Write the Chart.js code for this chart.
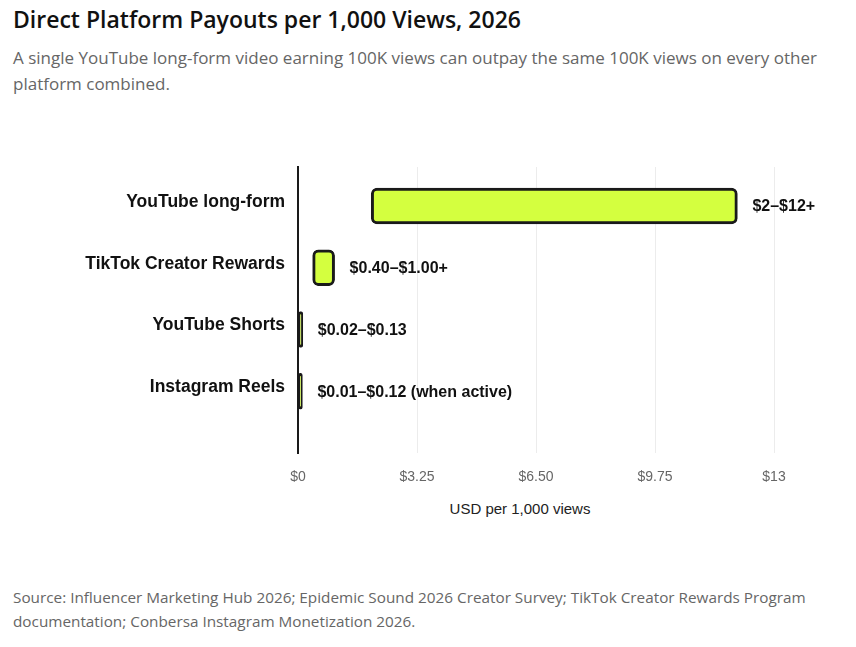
<!DOCTYPE html>
<html lang="en">
<head>
  <meta charset="UTF-8" />
  <title>Direct Platform Payouts per 1,000 Views, 2026</title>
  <script src="https://cdn.jsdelivr.net/npm/chart.js"></script>
  <style>
    body { margin: 0; background: #fff; width: 856px; height: 647px; position: relative; overflow: hidden; }
    .head, .sub, .source, .xtitle { position: absolute; font-family: 'Open Sans', Lato, sans-serif; }
    .head { left: 13px; top: 4px; font-size: 23px; font-weight: 600; color: #111; line-height: 30px; }
    .sub { left: 13px; top: 45px; width: 830px; font-size: 17px; color: #666; line-height: 26px; }
    .source { left: 13px; top: 585px; width: 830px; font-size: 15.3px; color: #666; line-height: 24px; }
    .xtitle { left: 420px; width: 200px; top: 500px; text-align: center; font-family: 'Liberation Sans', Arial, sans-serif; font-size: 15px; color: #222; }
    #chartBox { position: absolute; left: 0; top: 130px; width: 856px; height: 370px; }
  </style>
</head>
<body>
  <div class="head">Direct Platform Payouts per 1,000 Views, 2026</div>
  <div class="sub">A single YouTube long-form video earning 100K views can outpay the same 100K views on every other platform combined.</div>

  <div id="chartBox"><canvas id="payoutChart"></canvas></div>
  <div class="xtitle">USD per 1,000 views</div>

  <div class="source">Source: Influencer Marketing Hub 2026; Epidemic Sound 2026 Creator Survey; TikTok Creator Rewards Program documentation; Conbersa Instagram Monetization 2026.</div>

  <script>
    // data
    const platforms = ['YouTube long-form', 'TikTok Creator Rewards', 'YouTube Shorts', 'Instagram Reels'];
    const payoutLow = [2, 0.40, 0.02, 0.01];
    const payoutHigh = [12, 1.00, 0.13, 0.12];
    const rangeText = ['$2–$12+', '$0.40–$1.00+', '$0.02–$0.13', '$0.01–$0.12 (when active)'];
    const xTicks = [0, 3.25, 6.5, 9.75, 13];

    Chart.defaults.font.family = "'Liberation Sans', Arial, sans-serif";

    const bars = platforms.map((p, i) => ({ y: i, x: [payoutLow[i], payoutHigh[i]] }));

    // range text printed right of each bar
    const rangeLabels = {
      id: 'rangeLabels',
      afterDatasetsDraw(chart) {
        const ctx = chart.ctx;
        const meta = chart.getDatasetMeta(0);
        ctx.save();
        ctx.font = "bold 16px 'Liberation Sans', Arial, sans-serif";
        ctx.fillStyle = '#111';
        ctx.textBaseline = 'middle';
        ctx.textAlign = 'left';
        meta.data.forEach((bar, i) => {
          ctx.fillText(rangeText[i], bar.x + 15, bar.y + 1);
        });
        ctx.restore();
      }
    };

    new Chart(document.getElementById('payoutChart'), {
      type: 'bar',
      data: {
        datasets: [{
          data: bars,
          backgroundColor: '#d4ff3f',
          borderColor: '#1a1a1a',
          borderWidth: 3,
          borderRadius: 6,
          borderSkipped: false,
          barThickness: 36
        }]
      },
      options: {
        indexAxis: 'y',
        responsive: true,
        maintainAspectRatio: false,
        animation: false,
        layout: { padding: { top: 37, right: 82, bottom: 0, left: 0 } },
        plugins: {
          legend: { display: false },
          tooltip: { enabled: false }
        },
        scales: {
          x: {
            type: 'linear',
            min: 0,
            max: 13,
            afterBuildTicks: (s) => { s.ticks = xTicks.map(v => ({ value: v })); },
            afterFit: (s) => { s.height = 47; },
            ticks: {
              color: '#666',
              font: { size: 14 },
              padding: 16,
              callback: (v) => '$' + (Number.isInteger(v) ? v : v.toFixed(2))
            },
            grid: { color: '#ececec', lineWidth: 1, drawTicks: false },
            border: { display: false }
          },
          y: {
            type: 'linear',
            reverse: true,
            offset: false,
            min: -0.632,
            max: 4,
            afterBuildTicks: (s) => { s.ticks = platforms.map((p, i) => ({ value: i })); },
            afterFit: (s) => { s.width = 298; },
            ticks: {
              color: '#111',
              font: { size: 17.5, weight: 'bold' },
              padding: 13,
              labelOffset: -4,
              callback: (v) => platforms[v]
            },
            grid: { display: false, drawTicks: false },
            border: { display: true, color: '#1a1a1a', width: 2 }
          }
        }
      },
      plugins: [rangeLabels]
    });
  </script>
</body>
</html>
